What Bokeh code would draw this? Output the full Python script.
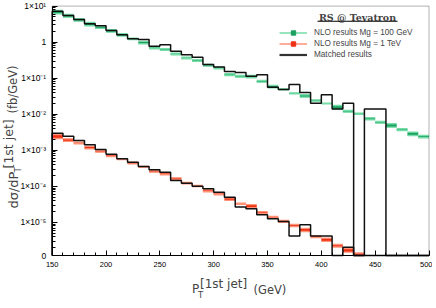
import math
from bokeh.plotting import figure
from bokeh.models import (FixedTicker, SingleIntervalTicker, CustomJSTickFormatter,
                          Label, Legend, LegendItem, BoxAnnotation, ColumnDataSource)
from bokeh.embed import file_html
from bokeh.resources import INLINE

# ---------------- data ----------------
bin_edges = [150, 160, 170, 180, 190, 200, 210, 220, 230, 240, 250, 260, 270, 280,
             290, 300, 310, 320, 330, 340, 350, 360, 370, 380, 390, 400, 410, 420,
             430, 440, 450, 460, 470, 480, 490, 500]

# NLO results Mg = 100 GeV (band: upper / lower edge, fb/GeV)
nlo100_hi = [7.57, 5.87, 4.46, 3.52, 2.73, 2.21, 1.71, 1.29, 1.045, 0.73, 0.656, 0.495,
             0.384, 0.325, 0.24, 0.203, 0.133, 0.119, 0.119, 0.0867, 0.063, 0.0509,
             0.0394, 0.0348, 0.0252, 0.0203, 0.0175, 0.0127, 0.0107, 0.0080, 0.0063,
             0.00545, 0.00396, 0.00319, 0.00258]
nlo100_lo = [6.14, 4.94, 3.83, 2.85, 2.40, 1.89, 1.47, 1.17, 0.90, 0.656, 0.589, 0.447,
             0.347, 0.292, 0.216, 0.183, 0.119, 0.107, 0.103, 0.0777, 0.0543, 0.0478,
             0.037, 0.0298, 0.0231, 0.0195, 0.0139, 0.0114, 0.0099, 0.00703, 0.00566,
             0.00439, 0.00355, 0.00258, 0.00223]

# NLO results Mg = 1 TeV (band, first 29 bins)
nlo1tev_hi = [2.75e-3, 2.09e-3, 1.68e-3, 1.28e-3, 9.9e-4, 7.5e-4, 5.8e-4, 4.6e-4, 3.56e-4,
              2.76e-4, 2.38e-4, 1.73e-4, 1.28e-4, 1.06e-4, 8.0e-5, 6.5e-5, 4.8e-5, 3.4e-5,
              3.1e-5, 2.0e-5, 1.46e-5, 1.13e-5, 8.8e-6, 6.8e-6, 4.2e-6, 3.65e-6, 2.44e-6,
              1.89e-6, 1.42e-6]
nlo1tev_lo = [2.13e-3, 1.76e-3, 1.52e-3, 1.10e-3, 8.9e-4, 6.7e-4, 5.5e-4, 4.2e-4, 3.4e-4,
              2.48e-4, 2.10e-4, 1.52e-4, 1.18e-4, 9.9e-5, 7.1e-5, 5.85e-5, 4.1e-5, 3.15e-5,
              2.55e-5, 1.77e-5, 1.33e-5, 1.0e-5, 7.7e-6, 5.6e-6, 3.8e-6, 3.0e-6, 2.08e-6,
              1.51e-6, 1.21e-6]

# Matched results (histograms)
matched_100 = [7.24, 5.5, 4.26, 3.24, 2.85, 2.11, 1.6, 1.24, 1.19, 0.77, 0.85, 0.56, 0.447,
               0.384, 0.24, 0.203, 0.154, 0.144, 0.114, 0.124, 0.0565, 0.0487, 0.067,
               0.040, 0.0203, 0.0348, 0.0140, 0.0203, 0, 0.0139, 0.0139, 0, 0, 0, 0]
matched_1tev = [2.99e-3, 2.47e-3, 1.88e-3, 1.43e-3, 1.06e-3, 7.8e-4, 5.8e-4, 4.7e-4,
                3.56e-4, 2.89e-4, 2.48e-4, 1.46e-4, 1.23e-4, 1.01e-4, 8.6e-5, 6.9e-5,
                5.0e-5, 2.7e-5, 2.4e-5, 1.63e-5, 1.26e-5, 1.06e-5, 4.2e-6, 8.6e-6, 4.2e-6,
                4.2e-6, 0, 2.06e-6, 0, 0, 0, 0, 0, 0, 0]

y_tick_values = [1.21e-6, 1e-5, 1e-4, 1e-3, 1e-2, 1e-1, 1, 10]
y_tick_labels = ["0", "1×10⁻⁵", "1×10⁻⁴", "1×10⁻³", "1×10⁻²", "1×10⁻¹", "1", "1×10¹"]
legend_labels = ["NLO results Mg = 100 GeV", "NLO results Mg = 1 TeV", "Matched results"]
legend_title = "RS @ Tevatron"

# ---------------- layout / style ----------------
W, H = 432, 300
X_LO, X_HI = bin_edges[0], bin_edges[-1]
Y_FLOOR, Y_TOP = y_tick_values[0], y_tick_values[-1]
# pixel box of the plotting area inside the canvas
BOX_L, BOX_R, BOX_T, BOX_B = 51.7, 428.5, 5.6, 255.0
kx = (BOX_R - BOX_L) / (X_HI - X_LO)
ky = (BOX_B - BOX_T) / (math.log10(Y_TOP) - math.log10(Y_FLOOR))
x_range = (X_LO - BOX_L / kx, X_HI + (W - BOX_R) / kx)
y_range = (10 ** (math.log10(Y_FLOOR) - (H - BOX_B) / ky), 10 ** (math.log10(Y_TOP) + BOX_T / ky))

GREEN_FILL, GREEN_EDGE = "#1ba060", "#74dca6"
RED_FILL, RED_EDGE = "#ee3014", "#ff9277"
SANS = "Liberation Sans"
TF = "DejaVu Sans"

p = figure(width=W, height=H, x_range=x_range, y_range=y_range, y_axis_type="log",
           output_backend="svg", toolbar_location=None, min_border=0)
p.grid.visible = False
p.outline_line_color = None
p.background_fill_color = "white"
p.border_fill_color = "white"


def band(hi, lo, fill, edge):
    n = len(hi)
    src = ColumnDataSource(dict(left=bin_edges[:n], right=bin_edges[1:n + 1], top=hi, bottom=lo))
    p.quad(left="left", right="right", top="top", bottom="bottom", source=src,
           fill_color=fill, line_alpha=0)
    for key in ("top", "bottom"):
        p.segment(x0="left", x1="right", y0=key, y1=key, source=src,
                  line_color=edge, line_width=1.3)


band(nlo100_hi, nlo100_lo, GREEN_FILL, GREEN_EDGE)
band(nlo1tev_hi, nlo1tev_lo, RED_FILL, RED_EDGE)


def step(vals):
    xs, ys = [bin_edges[0]], [Y_FLOOR]
    for i, v in enumerate(vals):
        vv = v if v > 0 else Y_FLOOR
        xs += [bin_edges[i], bin_edges[i + 1]]
        ys += [vv, vv]
    xs.append(bin_edges[-1]); ys.append(Y_FLOOR)
    p.line(xs, ys, line_color="#111111", line_width=1.5)


step(matched_100)
step(matched_1tev)

# frame box
p.add_layout(BoxAnnotation(left=X_LO, right=X_HI, bottom=Y_FLOOR, top=Y_TOP,
                           fill_alpha=0, line_color="black", line_width=1))

# ---------------- axes (fixed inside the canvas) ----------------
minor = [k * 10 ** d for d in range(-6, 1) for k in range(2, 10) if k * 10 ** d > Y_FLOOR]
p.yaxis.ticker = FixedTicker(ticks=y_tick_values, minor_ticks=minor)
p.yaxis.formatter = CustomJSTickFormatter(args=dict(vals=y_tick_values, labels=y_tick_labels), code="""
    for (let i = 0; i < vals.length; i++) {
        if (Math.abs(Math.log10(tick) - Math.log10(vals[i])) < 0.02) return labels[i];
    }
    return "";
""")
p.xaxis.ticker = SingleIntervalTicker(interval=50, num_minor_ticks=5)
p.xaxis.fixed_location = Y_FLOOR
p.yaxis.fixed_location = X_LO
p.xaxis.bounds = (X_LO, X_HI)
p.yaxis.bounds = (Y_FLOOR, Y_TOP)

for ax in (p.xaxis[0], p.yaxis[0]):
    ax.axis_line_color = "black"
    ax.axis_line_width = 1
    ax.major_tick_in = 5
    ax.major_tick_out = 0
    ax.minor_tick_in = 3
    ax.minor_tick_out = 0
    ax.major_tick_line_color = "black"
    ax.minor_tick_line_color = "black"
    ax.major_label_text_font = SANS
    ax.major_label_text_color = "black"
p.xaxis.major_label_text_font_size = "7.5px"
p.yaxis.major_label_text_font_size = "8.5px"
p.yaxis.major_label_standoff = 6
p.xaxis.major_label_standoff = 6


# ---------------- axis titles (screen px: x from left, y_img from top) ----------------
def lab(text, x, y_img, size, angle=0.0, align="left", baseline="alphabetic", font=TF, style="normal"):
    p.add_layout(Label(x=x, y=H - y_img, x_units="screen", y_units="screen", text=text,
                       text_font=font, text_font_size=size, angle=angle,
                       text_align=align, text_baseline=baseline, text_font_style=style))


lab("P", 191.5, 288.5, "12px")
lab("T", 197.5, 294, "8.5px")
lab("[1st jet]", 199.5, 283.5, "12px")
lab("(GeV)", 253, 289.5, "11.5px")

lab("dσ/dP", 12.5, 208, "13px", angle=math.pi / 2)
lab("T", 17.5, 172, "8.5px", angle=math.pi / 2)
lab("[1st jet]", 8, 168, "12.5px", angle=math.pi / 2)
lab("(fb/GeV)", 12.5, 113, "11.5px", angle=math.pi / 2)

# ---------------- legend ----------------
nan = [float("nan")]
g_line = p.line(nan, nan, line_color=GREEN_EDGE, line_width=1.5)
g_sq = p.scatter(nan, nan, marker="square", size=6, fill_color=GREEN_FILL, line_color=GREEN_FILL)
r_line = p.line(nan, nan, line_color=RED_EDGE, line_width=1.5)
r_sq = p.scatter(nan, nan, marker="square", size=6, fill_color=RED_FILL, line_color=RED_FILL)
k_line = p.line(nan, nan, line_color="#333333", line_width=2.2)
legend = Legend(items=[LegendItem(label=legend_labels[0], renderers=[g_line, g_sq]),
                       LegendItem(label=legend_labels[1], renderers=[r_line, r_sq]),
                       LegendItem(label=legend_labels[2], renderers=[k_line])],
                location=(279, H - 60), padding=0, margin=0, spacing=0,
                glyph_width=28, glyph_height=11, label_height=11, label_standoff=7,
                label_text_font=SANS, label_text_font_size="8.2px",
                border_line_alpha=0, background_fill_alpha=0)
p.add_layout(legend)
lab(legend_title, 357, 16.7, "9.5px", align="center", baseline="middle",
    font="DejaVu Serif", style="bold")
p.add_layout(BoxAnnotation(left=317, right=397, top=H - 20.2, bottom=H - 21.2,
                           left_units="screen", right_units="screen",
                           top_units="screen", bottom_units="screen",
                           fill_color="black", fill_alpha=1, line_alpha=0))

open("out.html", "w").write(file_html(p, INLINE))
